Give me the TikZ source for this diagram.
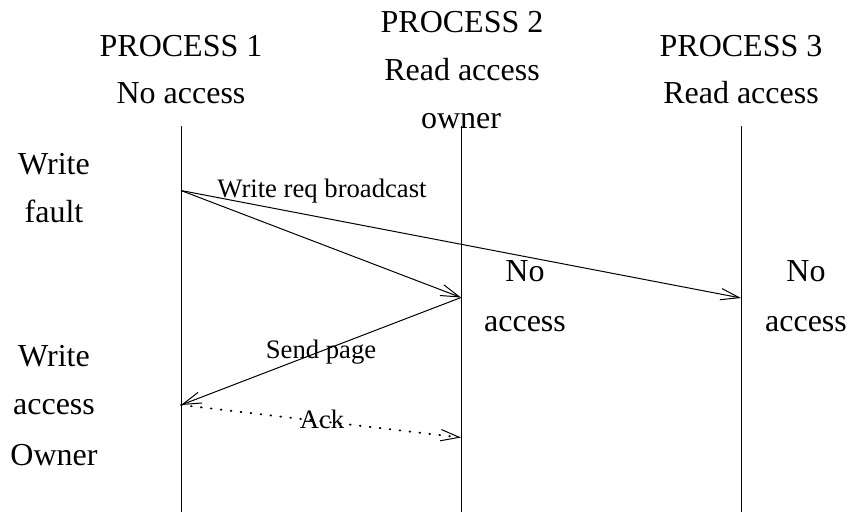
\documentclass[tikz,border=0pt]{standalone}
\usepackage{fontspec}
\setmainfont{Liberation Serif}
\usetikzlibrary{arrows.meta}

\tikzset{
    lbl/.style={inner sep=0pt, anchor=base, font=\fontsize{24}{28}\selectfont},
    msglbl/.style={inner sep=0pt, anchor=base, font=\fontsize{20}{24}\selectfont},
    lifeline/.style={line width=0.75pt},
    msg/.style={line width=0.75pt, -{Straight Barb[length=14pt,width=8.5pt,line width=0.75pt]}},
    ackmsg/.style={msg, line width=1.4pt, dash pattern=on 0.6pt off 6.9pt, line cap=round}
}

\begin{document}
\begin{tikzpicture}[x=0.75pt,y=0.75pt,yscale=-1,xscale=1]
    \useasboundingbox (0,0) rectangle (849,512); %set diagram to 849 x 512
    
    %Lifelines [top and bottom of each process]
    \coordinate (ptop1) at (181,126);
    \coordinate (pbot1) at (181,512);
    \coordinate (ptop2) at (461,126);
    \coordinate (pbot2) at (461,512);
    \coordinate (ptop3) at (741,126);
    \coordinate (pbot3) at (741,512);
    \draw [lifeline] (ptop1) -- (pbot1);
    \draw [lifeline] (ptop2) -- (pbot2);
    \draw [lifeline] (ptop3) -- (pbot3);
    
    %Message end points
    \coordinate (wfault) at (181,190.5);
    \coordinate (reqtwo) at (461,297.5);
    \coordinate (reqthree) at (741,298);
    \coordinate (pagein) at (181,405);
    \coordinate (ackin) at (461,437.5);
    
    %Straight Lines [write req broadcast]
    \draw [msg] (wfault) -- (reqtwo);
    \draw [msg] (wfault) -- (reqthree);
    %Straight Lines [send page]
    \draw [msg] (reqtwo) -- (pagein);
    %Dotted Lines [ack]
    \draw [ackmsg] (pagein) -- (ackin);
    
    % Text Node
    \node [lbl] (pname1) at (181,56) {PROCESS 1};
    \node [lbl] (pstate1) at (181,103) {No access};
    % Text Node
    \node [lbl] (pname2) at (462,32) {PROCESS 2};
    \node [lbl] (pstate2) at (462,80) {Read access};
    \node [lbl] (powner2) at (461,128) {owner};
    % Text Node
    \node [lbl] (pname3) at (741,56) {PROCESS 3};
    \node [lbl] (pstate3) at (741,103) {Read access};
    
    % Text Node
    \node [lbl] (wfone) at (54,174) {Write};
    \node [lbl] (wftwo) at (54,222) {fault};
    % Text Node
    \node [lbl] (waone) at (54,366) {Write};
    \node [lbl] (watwo) at (54,414) {access};
    \node [lbl] (wathree) at (54,465) {Owner};
    % Text Node
    \node [lbl] (natwo) at (525,281) {No};
    \node [lbl] (natwob) at (525,331) {access};
    \node [lbl] (nathree) at (806,281) {No};
    \node [lbl] (nathreeb) at (806,331) {access};
    
    % Text Node
    \node [msglbl] (reqlbl) at (322,197) {Write req broadcast};
    \node [msglbl] (pagelbl) at (321,358) {Send page};
    \node [msglbl] (acklbl) at (322,428) {Ack};
    
\end{tikzpicture}
\end{document}
